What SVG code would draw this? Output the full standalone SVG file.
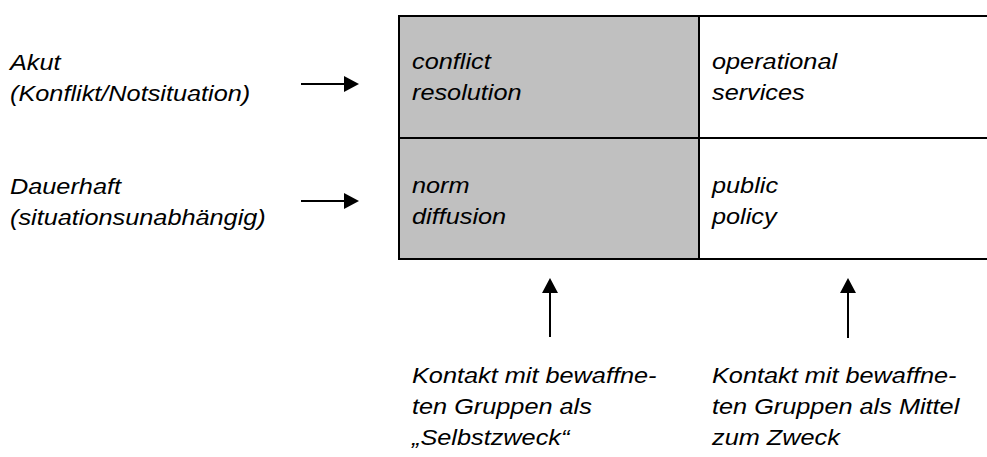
<svg xmlns="http://www.w3.org/2000/svg" width="987" height="457" viewBox="0 0 987 457">
<style>
text{font-family:"Liberation Sans",Arial,sans-serif;font-style:italic;font-size:22px;fill:#000}
.ln{stroke:#000;stroke-width:2;fill:none}
.ar{stroke:#000;stroke-width:2}
.hd{fill:#000}
</style>
<rect x="399" y="16" width="300" height="243" fill="#c0c0c0"/>
<g id="grid">
<line class="ln" x1="398" y1="16" x2="987" y2="16"/>
<line class="ln" x1="398" y1="138" x2="987" y2="138"/>
<line class="ln" x1="398" y1="259" x2="987" y2="259"/>
<line class="ln" x1="399" y1="15" x2="399" y2="260"/>
<line class="ln" x1="699" y1="15" x2="699" y2="260"/>
</g>
<g id="label-akut"><text transform="translate(10,70) scale(1.15,1)"><tspan x="0" y="0">Akut</tspan><tspan x="0" y="31">(Konflikt/Notsituation)</tspan></text></g>
<g id="label-dauerhaft"><text transform="translate(10,194) scale(1.15,1)"><tspan x="0" y="0">Dauerhaft</tspan><tspan x="0" y="31">(situationsunabhängig)</tspan></text></g>
<g id="cell-conflict"><text transform="translate(412,69) scale(1.15,1)"><tspan x="0" y="0">conflict</tspan><tspan x="0" y="31">resolution</tspan></text></g>
<g id="cell-operational"><text transform="translate(712,69) scale(1.15,1)"><tspan x="0" y="0">operational</tspan><tspan x="0" y="31">services</tspan></text></g>
<g id="cell-norm"><text transform="translate(412,193) scale(1.15,1)"><tspan x="0" y="0">norm</tspan><tspan x="0" y="31">diffusion</tspan></text></g>
<g id="cell-public"><text transform="translate(712,193) scale(1.15,1)"><tspan x="0" y="0">public</tspan><tspan x="0" y="31">policy</tspan></text></g>
<g id="label-selbstzweck"><text transform="translate(412,383) scale(1.15,1)"><tspan x="0" y="0">Kontakt mit bewaffne-</tspan><tspan x="0" y="31">ten Gruppen als</tspan><tspan x="0" y="62">„Selbstzweck“</tspan></text></g>
<g id="label-mittel"><text transform="translate(712,383) scale(1.15,1)"><tspan x="0" y="0">Kontakt mit bewaffne-</tspan><tspan x="0" y="31">ten Gruppen als Mittel</tspan><tspan x="0" y="62">zum Zweck</tspan></text></g>
<g id="connectors">
<line class="ar" x1="301" y1="84" x2="345" y2="84"/>
<polygon class="hd" points="344,76 359,84 344,92"/>
<line class="ar" x1="301" y1="201" x2="345" y2="201"/>
<polygon class="hd" points="344,193 359,201 344,209"/>
<line class="ar" x1="550" y1="337" x2="550" y2="292"/>
<polygon class="hd" points="542,293 550,278 558,293"/>
<line class="ar" x1="848" y1="338" x2="848" y2="292"/>
<polygon class="hd" points="840,293 848,278 856,293"/>
</g>
</svg>
